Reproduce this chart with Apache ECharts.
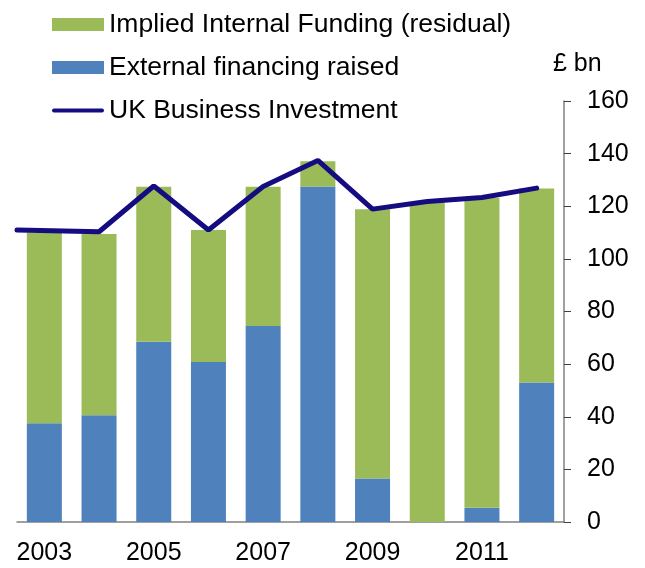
<!DOCTYPE html>
<html>
<head>
<meta charset="utf-8">
<script src="https://cdn.jsdelivr.net/npm/echarts@6/dist/echarts.min.js"></script>
<style>
  html, body { margin: 0; padding: 0; background: #fff; }
  #chart { width: 645px; height: 568px; }
</style>
</head>
<body>
<div id="chart"></div>
<script>
// categories
const years = ['2003', '2004', '2005', '2006', '2007', '2008', '2009', '2010', '2011', '2012']

// £ bn
const externalFinancing = [37.5, 40.6, 68.5, 60.8, 74.5, 127.5, 16.5, 0, 5.4, 53]
const totalFunding = [110, 109.5, 127.4, 111, 127.4, 137.1, 118.9, 121.4, 123.2, 126.7]
const internalFunding = totalFunding.map((t, i) => +(t - externalFinancing[i]).toFixed(1))

// line is plotted on a year scale, first point sits on the left edge
const investmentYears = [2002.5, 2004, 2005, 2006, 2007, 2008, 2009, 2010, 2011, 2012]
const businessInvestment = [111, 110.3, 127.7, 111, 127.5, 137.4, 118.9, 121.8, 123.3, 126.9]

const yTicks = { min: 0, max: 160, interval: 20 }

const FONT = 'Liberation Sans, Arial, sans-serif'
const chart = echarts.init(document.getElementById('chart'))

const option = {
  animation: false,
  textStyle: { fontFamily: FONT },
  grid: { left: 17, right: 81, top: 101, bottom: 46 },
  legend: {
    orient: 'vertical',
    left: 52,
    top: 11,
    padding: 0,
    itemWidth: 52,
    itemHeight: 13,
    itemGap: 16,
    textStyle: { fontSize: 26.5, color: '#000', fontFamily: FONT },
    data: [
      { name: 'Implied Internal Funding (residual)', icon: 'rect' },
      { name: 'External financing raised', icon: 'rect' },
      { name: 'UK Business Investment', icon: 'path://M2,0H50A2,2 0 0 1 50,4H2A2,2 0 0 1 2,0Z' }
    ]
  },
  graphic: [
    {
      type: 'text',
      left: 553,
      top: 52,
      style: { text: '£ bn', fontSize: 25, fill: '#000', fontFamily: FONT }
    }
  ],
  xAxis: [
    {
      type: 'category',
      data: years,
      axisLine: { lineStyle: { color: '#808080', width: 1.5 } },
      axisTick: { inside: true, length: 7, interval: 1, lineStyle: { color: '#404040' } },
      axisLabel: { interval: 1, fontSize: 25, color: '#000', margin: 19 }
    },
    {
      type: 'value',
      min: 2002.5,
      max: 2012.5,
      show: false
    }
  ],
  yAxis: {
    type: 'value',
    position: 'right',
    min: yTicks.min,
    max: yTicks.max,
    interval: yTicks.interval,
    splitLine: { show: false },
    axisLine: { show: true, lineStyle: { color: '#808080', width: 1.5 } },
    axisTick: { show: true, length: 7, lineStyle: { color: '#404040' } },
    axisLabel: { fontSize: 25, color: '#000', margin: 23 }
  },
  series: [
    {
      name: 'External financing raised',
      type: 'bar',
      stack: 'funding',
      barCategoryGap: '36%',
      itemStyle: { color: '#4f81bd' },
      data: externalFinancing
    },
    {
      name: 'Implied Internal Funding (residual)',
      type: 'bar',
      stack: 'funding',
      barCategoryGap: '36%',
      itemStyle: { color: '#9bbb59' },
      data: internalFunding
    },
    {
      name: 'UK Business Investment',
      type: 'line',
      xAxisIndex: 1,
      symbol: 'none',
      lineStyle: { color: '#140c80', width: 5, cap: 'round' },
      itemStyle: { color: '#140c80' },
      data: investmentYears.map((y, i) => [y, businessInvestment[i]])
    }
  ]
}

chart.setOption(option)
</script>
</body>
</html>
